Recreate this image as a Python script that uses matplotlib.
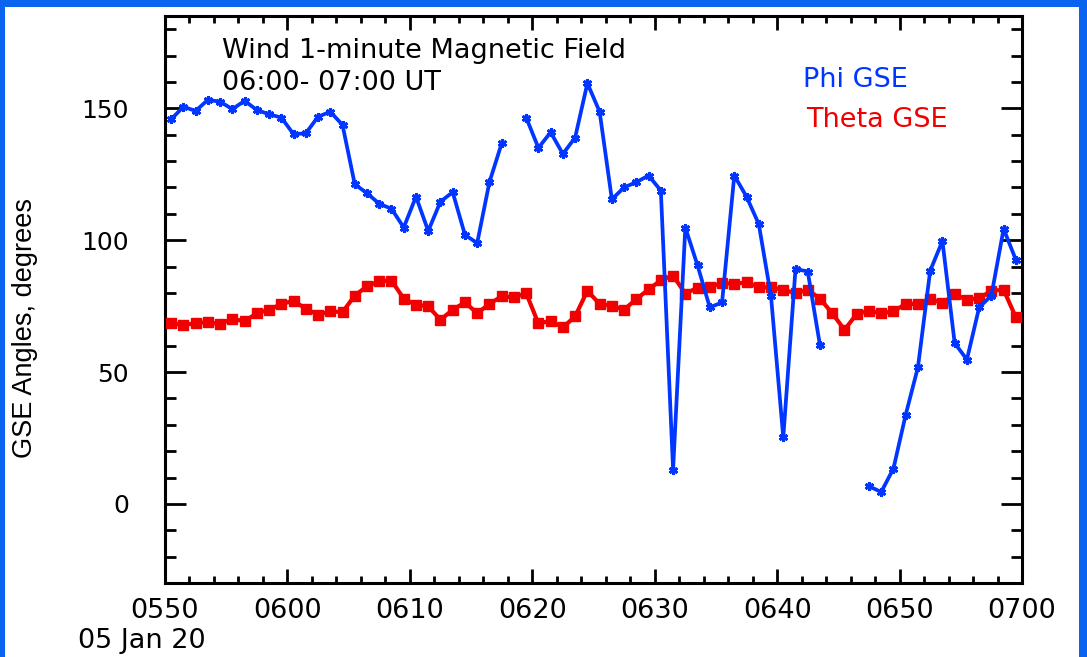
import numpy as np
import matplotlib
matplotlib.use("Agg")
import matplotlib.pyplot as plt
from matplotlib.patches import Rectangle
from matplotlib.ticker import MultipleLocator

nan = np.nan

# 1-minute averages, 05:50 - 07:00 UT, plotted at the middle of each minute
minute = np.arange(70) + 0.5

phi_gse = [145.8, 150.6, 149.0, 153.2, 152.5, 149.7, 152.8, 149.4, 147.7, 146.5,
           140.2, 140.5, 146.8, 148.7, 143.7, 121.2, 117.8, 113.8, 111.9, 104.8,
           116.5, 103.5, 114.6, 118.2, 102.0, 98.9, 122.0, 136.7, nan, 146.5,
           135.0, 140.9, 132.7, 138.9, 159.5, 148.7, 115.5, 120.0, 122.0, 124.5,
           118.8, 13.0, 104.8, 90.4, 74.5, 76.4, 124.5, 116.5, 106.1, 78.7,
           25.2, 89.1, 88.1, 60.1, nan, nan, nan, 6.7, 4.5, 13.4,
           33.8, 51.8, 88.4, 99.7, 61.0, 54.7, 74.5, 79.0, 104.3, 92.5]

theta_gse = [68.6, 67.7, 68.6, 68.9, 68.2, 70.2, 69.2, 72.3, 73.6, 75.8,
             77.0, 74.0, 71.7, 73.0, 72.7, 79.0, 82.5, 84.4, 84.7, 77.8,
             75.5, 74.9, 69.8, 73.6, 76.4, 72.3, 75.8, 78.7, 78.3, 79.9,
             68.4, 69.4, 66.9, 71.1, 80.8, 75.8, 75.1, 73.6, 77.7, 81.3,
             84.8, 86.6, 79.7, 82.0, 82.1, 83.9, 83.3, 84.1, 82.1, 82.1,
             81.2, 79.9, 81.2, 77.8, 72.3, 66.0, 72.0, 73.2, 72.3, 73.0,
             75.8, 75.8, 77.8, 76.1, 79.5, 77.4, 78.0, 80.8, 81.2, 70.7]

x_ticks = [0, 10, 20, 30, 40, 50, 60, 70]
x_labels = ["0550", "0600", "0610", "0620", "0630", "0640", "0650", "0700"]
y_ticks = [0, 50, 100, 150]

BLUE = "#0036ff"
RED = "#f00000"
FRAME = "#0a64f0"

W, H = 1087, 657
fig = plt.figure(figsize=(W / 100, H / 100), dpi=100)
fig.patch.set_facecolor(FRAME)
# white panel inside the blue slide border
fig.add_artist(Rectangle((5 / W, 0), (1079 - 5) / W, (H - 7) / H,
                         transform=fig.transFigure, facecolor="white",
                         edgecolor="none", zorder=0))

ax = fig.add_axes([165 / W, 1 - 583 / H, (1022 - 165) / W, (583 - 16) / H])
ax.set_facecolor("white")

ax.plot(minute, theta_gse, color=RED, lw=3.0, marker="s", ms=6.5,
        mec=RED, mfc=RED, zorder=3)
ax.plot(minute, phi_gse, color=BLUE, lw=2.7, marker=(6, 2, 0), ms=6.5,
        mew=2.0, mec=BLUE, zorder=4)

ax.set_xlim(0, 70)
ax.set_ylim(-30, 185)
ax.set_xticks(x_ticks)
ax.set_xticklabels(x_labels)
ax.set_yticks(y_ticks)
ax.xaxis.set_minor_locator(MultipleLocator(2))
ax.yaxis.set_minor_locator(MultipleLocator(10))

for s in ax.spines.values():
    s.set_linewidth(2.2)
    s.set_color("black")

ax.tick_params(axis="x", which="both", direction="in", top=True, bottom=True,
               width=2.0, color="black", labelsize=19.5, pad=11)
ax.tick_params(axis="x", which="major", length=10)
ax.tick_params(axis="x", which="minor", length=5)
ax.tick_params(axis="y", which="both", direction="in", left=True, right=True,
               width=2.0, color="black", labelsize=18, pad=26)
ax.tick_params(axis="y", which="major", length=15)
ax.tick_params(axis="y", which="minor", length=8)
for lab in ax.get_xticklabels() + ax.get_yticklabels():
    lab.set_fontfamily("DejaVu Sans")

ax.set_ylabel("GSE Angles, degrees", fontsize=19.5, family="Liberation Sans",
              labelpad=0)
ax.yaxis.set_label_coords(25 / W, 0.5, transform=fig.transFigure)
ax.yaxis.label.set_va("center")

fig.text(78 / W, 1 - 641 / H, "05 Jan 20", fontsize=19.5, family="DejaVu Sans",
         ha="left", va="center", color="black")

ax.text(222 / W, 1 - 58 / H, "Wind 1-minute Magnetic Field", transform=fig.transFigure,
        fontsize=19.5, family="DejaVu Sans", color="black", va="baseline")
ax.text(222 / W, 1 - 90 / H, "06:00- 07:00 UT", transform=fig.transFigure,
        fontsize=19.5, family="DejaVu Sans", color="black", va="baseline")
ax.text(803 / W, 1 - 87 / H, "Phi GSE", transform=fig.transFigure,
        fontsize=19.5, family="DejaVu Sans", color=BLUE, va="baseline")
ax.text(806 / W, 1 - 127 / H, "Theta GSE", transform=fig.transFigure,
        fontsize=19.5, family="DejaVu Sans", color=RED, va="baseline")

fig.savefig("out.png", dpi=100, facecolor=fig.get_facecolor())
